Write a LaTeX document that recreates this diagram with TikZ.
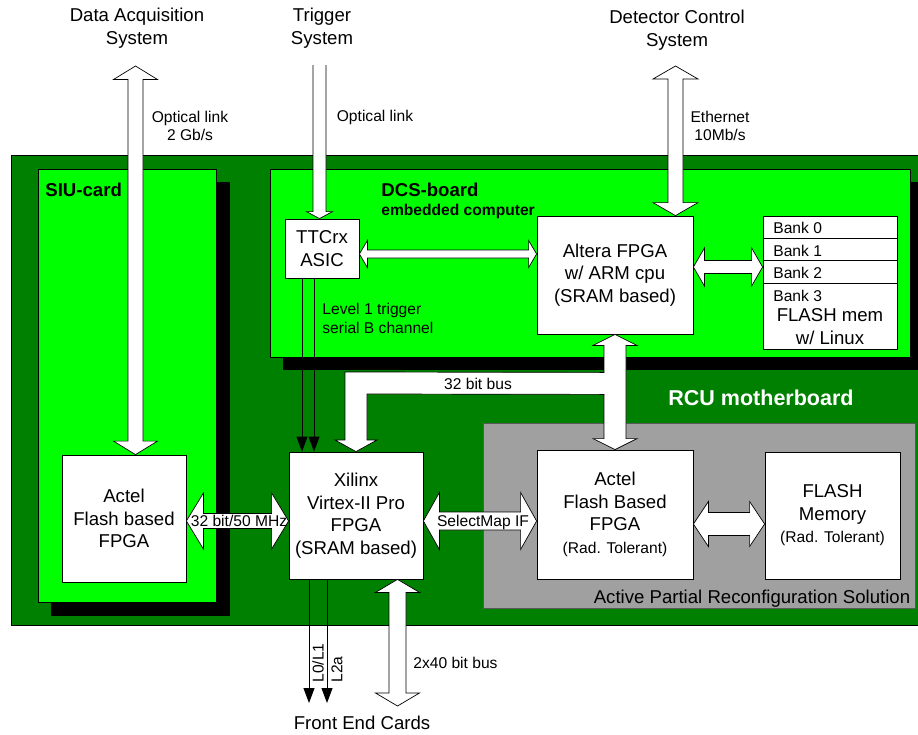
\documentclass[tikz,border=0pt]{standalone}
\usepackage{fontspec}
\setmainfont{Liberation Sans}
\usetikzlibrary{calc,arrows.meta}
\definecolor{dkgreen}{RGB}{0,128,0}
\definecolor{ltgreen}{RGB}{0,255,0}
\definecolor{apgrey}{RGB}{160,160,160}
\newcommand\bigf{\fontsize{18.6}{22.5}\selectfont}
\newcommand\smf{\fontsize{15.6}{18.5}\selectfont}
\newcommand\rcuf{\fontsize{21.5}{25}\selectfont\bfseries}
% vertical double block arrow: top, bottom, shaft half width, head half width, head length
\newcommand\vdarr[5]{%
 \draw[barrow] let \p1=(#1), \p2=(#2) in
 (\x1,\y1) -- (\x1+#4pt,\y1-#5pt) -- (\x1+#3pt,\y1-#5pt) -- (\x1+#3pt,\y2+#5pt) -- (\x1+#4pt,\y2+#5pt) -- (\x1,\y2)
 -- (\x1-#4pt,\y2+#5pt) -- (\x1-#3pt,\y2+#5pt) -- (\x1-#3pt,\y1-#5pt) -- (\x1-#4pt,\y1-#5pt) -- cycle;}
% horizontal double block arrow: left, right, shaft half width, head half width, head length
\newcommand\hdarr[5]{%
 \draw[barrow] let \p1=(#1), \p2=(#2) in
 (\x1,\y1) -- (\x1+#5pt,\y1+#4pt) -- (\x1+#5pt,\y1+#3pt) -- (\x2-#5pt,\y1+#3pt) -- (\x2-#5pt,\y1+#4pt) -- (\x2,\y1)
 -- (\x2-#5pt,\y1-#4pt) -- (\x2-#5pt,\y1-#3pt) -- (\x1+#5pt,\y1-#3pt) -- (\x1+#5pt,\y1-#4pt) -- cycle;}
% single downward block arrow with open tail
\newcommand\vsarr[5]{%
 \draw[barrow] let \p1=(#1), \p2=(#2) in
 (\x1-#3pt,\y1) -- (\x1-#3pt,\y2+#5pt) -- (\x1-#4pt,\y2+#5pt) -- (\x1,\y2) -- (\x1+#4pt,\y2+#5pt) -- (\x1+#3pt,\y2+#5pt) -- (\x1+#3pt,\y1);}
\begin{document}
\begin{tikzpicture}[x=1pt,y=-1pt,line width=0.8pt,
 box/.style={draw=black,fill=white,inner sep=0pt,align=center,font=\bigf},
 barrow/.style={draw=black,fill=white,line width=0.7pt,line join=miter},
 tarr/.style={-{Triangle[length=15pt,width=11pt]},line width=0.9pt},
 lbl/.style={inner sep=0pt,font=\smf,align=center},
 ttl/.style={inner sep=0pt,font=\bigf,align=center}]
\useasboundingbox (0,0) rectangle (918,734);
\clip (0,0) rectangle (918,734);
\fill[white] (0,0) rectangle (918,734);
% boards
\draw[fill=dkgreen] (11,155) rectangle (930,625);
\fill[black] (51,182) rectangle (230,616);
\draw[fill=ltgreen] (38,169) rectangle (216,602);
\fill[black] (283,182) rectangle (930,370);
\draw[fill=ltgreen] (270,169) rectangle (910,357);
\draw[draw=black!65,fill=apgrey] (483,423) rectangle (915,608);
% boxes
\node[box,minimum width=74pt,minimum height=59pt] (ttc) at (322,248.5) {TTCrx\\ASIC};
\node[box,minimum width=156pt,minimum height=118pt] (altera) at (615,275) {Altera FPGA\\w/ ARM cpu\\(SRAM based)};
\node[box,minimum width=134pt,minimum height=133pt] (bank) at (830,282.5) {};
\node[box,minimum width=124pt,minimum height=127pt] (siuact) at (124,518.5) {Actel\\Flash based\\FPGA};
\node[box,minimum width=134pt,minimum height=127pt] (xil) at (356,515.5) {Xilinx\\Virtex-II Pro\\FPGA\\(SRAM based)};
\node[box,minimum width=156pt,minimum height=129pt] (rad) at (615,514.5) {Actel\\Flash Based\\FPGA\\{\smf (Rad. Tolerant)}};
\node[box,minimum width=135pt,minimum height=127pt] (flash) at (832.5,515.5) {\raisebox{-4pt}{\parbox{130pt}{\centering FLASH\\Memory\\{\smf (Rad. Tolerant)}}}};
% bank dividers
\draw (bank.west |- 0,238) -- (bank.east |- 0,238);
\draw (bank.west |- 0,260) -- (bank.east |- 0,260);
\draw (bank.west |- 0,283) -- (bank.east |- 0,283);
\node[lbl,anchor=west] (b0) at (773,228) {Bank 0};
\node[lbl,anchor=west] (b1) at (773,250.5) {Bank 1};
\node[lbl,anchor=west] (b2) at (773,273) {Bank 2};
\node[lbl,anchor=west] (b3) at (773,296) {Bank 3};
\node[ttl] (fmem) at (830,326.5) {FLASH mem\\w/ Linux};
% external titles
\node[ttl] (daq) at (137,28) {Data Acquisition\\System};
\node[ttl] (trg) at (322,28) {Trigger\\System};
\node[ttl] (dcs) at (677,30) {Detector Control\\System};
\node[ttl] (fec) at (362,723) {Front End Cards};
\coordinate (daqtop) at (135.5,66);
\coordinate (trigtop) at (319.5,65);
\coordinate (dcstop) at (675.5,66);
\coordinate (fe1) at (309,703);
\coordinate (fe2) at (327,703);
\coordinate (fe3) at (397.5,706);
% block arrows
\vdarr{daqtop}{daqtop |- siuact.north}{7.5}{22}{13.5}
\vsarr{trigtop}{trigtop |- ttc.north}{6.5}{13}{7}
\vdarr{dcstop}{dcstop |- altera.north}{7.5}{22.5}{13}
\hdarr{$(ttc.east)+(0,5.5)$}{altera.west}{4}{13.5}{8}
\hdarr{$(altera.east)+(0,-8)$}{bank.west}{6.5}{19}{11}
\vdarr{altera.south}{rad.north}{11}{22}{11}
\draw[barrow] ($(altera.south)+(-11,38)$) -- (345,372) -- (345,440) -- (335,440) -- (xil.north) -- (377,440) -- (367,440) -- (367,394) -- ($(altera.south)+(-11,60)$);
\fill[white] ($(altera.south)+(-11.6,38.4)$) rectangle ($(altera.south)+(-9,59.6)$);
\hdarr{$(siuact.east)+(0,2.5)$}{xil.west}{7.5}{28}{17}
\hdarr{$(xil.east)+(0,5.5)$}{rad.west}{9}{28.5}{16}
\hdarr{$(rad.east)+(0,9.5)$}{flash.west}{11.5}{22.5}{15}
\vdarr{$(xil.south)+(41.5,0)$}{fe3}{8.5}{22}{13}
% thin arrows
\draw[tarr] ($(ttc.south)+(-20,0)$) -- ($(xil.north)+(-54,0)$);
\draw[tarr] ($(ttc.south)+(-8,0)$) -- ($(xil.north)+(-42,0)$);
\draw[tarr] ($(xil.south)+(-47,0)$) -- (fe1);
\draw[tarr] ($(xil.south)+(-29,0)$) -- (fe2);
% labels
\node[lbl] (l1) at (190,126) {Optical link\\2 Gb/s};
\node[lbl] (l2) at (375,117) {Optical link};
\node[lbl] (l3) at (720,126) {Ethernet\\10Mb/s};
\node[inner sep=0pt,anchor=west,font=\bigf\bfseries] (siu) at (45,190) {SIU-card};
\node[inner sep=0pt,anchor=west,font=\bigf\bfseries] (dcsb) at (381,190) {DCS-board};
\node[inner sep=0pt,anchor=west,font=\smf\bfseries] (emb) at (381,211) {embedded computer};
\node[lbl,anchor=west,align=left] (lvl) at (322,318.5) {Level 1 trigger\\serial B channel};
\node[lbl] (bus32) at (478,384) {32 bit bus};
\node[inner sep=0pt,font=\rcuf,text=white] (rcu) at (761,398) {RCU motherboard};
\node[lbl] (b3250) at (239,521) {32 bit/50 MHz};
\node[lbl] (smap) at (483,522) {SelectMap IF};
\node[ttl] (apr) at (752,599) {Active Partial Reconfiguration Solution};
\node[lbl,rotate=90,anchor=west] (l01) at (318,683) {L0/L1};
\node[lbl,rotate=90,anchor=west] (l2a) at (337,683) {L2a};
\node[lbl,anchor=west] (b240) at (413,663) {2x40 bit bus};
\end{tikzpicture}
\end{document}
